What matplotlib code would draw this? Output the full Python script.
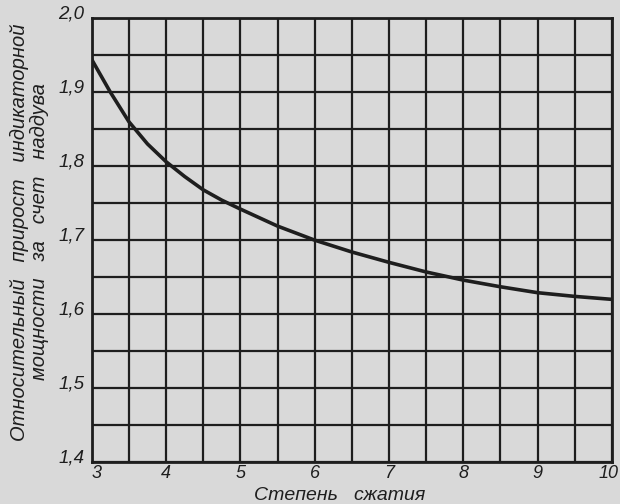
import numpy as np
import matplotlib; matplotlib.use("Agg")
import matplotlib.pyplot as plt

# Data
compression = [3, 3.25, 3.5, 3.75, 4, 4.25, 4.5, 4.75, 5, 5.5, 6, 6.5, 7, 7.5, 8, 8.5, 9, 9.5, 10]
gain = [1.944, 1.900, 1.860, 1.830, 1.806, 1.786, 1.768, 1.754, 1.742, 1.719, 1.700,
        1.684, 1.670, 1.657, 1.646, 1.637, 1.629, 1.624, 1.620]

x_ticks = [3, 4, 5, 6, 7, 8, 9, 10]
y_ticks = [1.4, 1.5, 1.6, 1.7, 1.8, 1.9, 2.0]
y_labels = ["1,4", "1,5", "1,6", "1,7", "1,8", "1,9", "2,0"]

BG = "#d9d9d9"
INK = "#1e1e1e"
plt.rcParams['font.family'] = ['Liberation Sans', 'DejaVu Sans']

fig = plt.figure(figsize=(6.2, 5.04), dpi=100, facecolor=BG)
ax = fig.add_axes([0.148, 0.083, 0.839, 0.881], facecolor=BG)

ax.plot(compression, gain, color=INK, lw=2.6, solid_capstyle="round",
        solid_joinstyle="round")

ax.set_xlim(3, 10); ax.set_ylim(1.4, 2.0)
ax.set_xticks(np.arange(3, 10.01, 0.5))
ax.set_yticks(np.arange(1.4, 2.001, 0.05))
ax.set_xticklabels([]); ax.set_yticklabels([])
ax.tick_params(length=0)
ax.grid(True, color=INK, lw=1.6)
for s in ax.spines.values():
    s.set_color(INK); s.set_linewidth(2)

for xv in x_ticks:
    ax.text(xv + (0.06 if xv == 3 else 0) - (0.05 if xv == 10 else 0), 1.396, str(xv),
            ha="center", va="top", fontsize=13, style="italic", color=INK)
for yv, lab in zip(y_ticks, y_labels):
    ax.text(2.9, yv + 0.006, lab, ha="right", va="center", fontsize=13.5,
            style="italic", color=INK)

fig.text(0.548, 0.0, "Степень   сжатия", ha="center", va="bottom",
         fontsize=14, style="italic", color=INK)
fig.text(0.048, 0.54, "Относительный   прирост   индикаторной\nмощности   за   счет   наддува",
         rotation=90, ha="center", va="center", fontsize=14.5, style="italic",
         color=INK, linespacing=1.05)

fig.savefig("out.png", dpi=100, facecolor=BG)
